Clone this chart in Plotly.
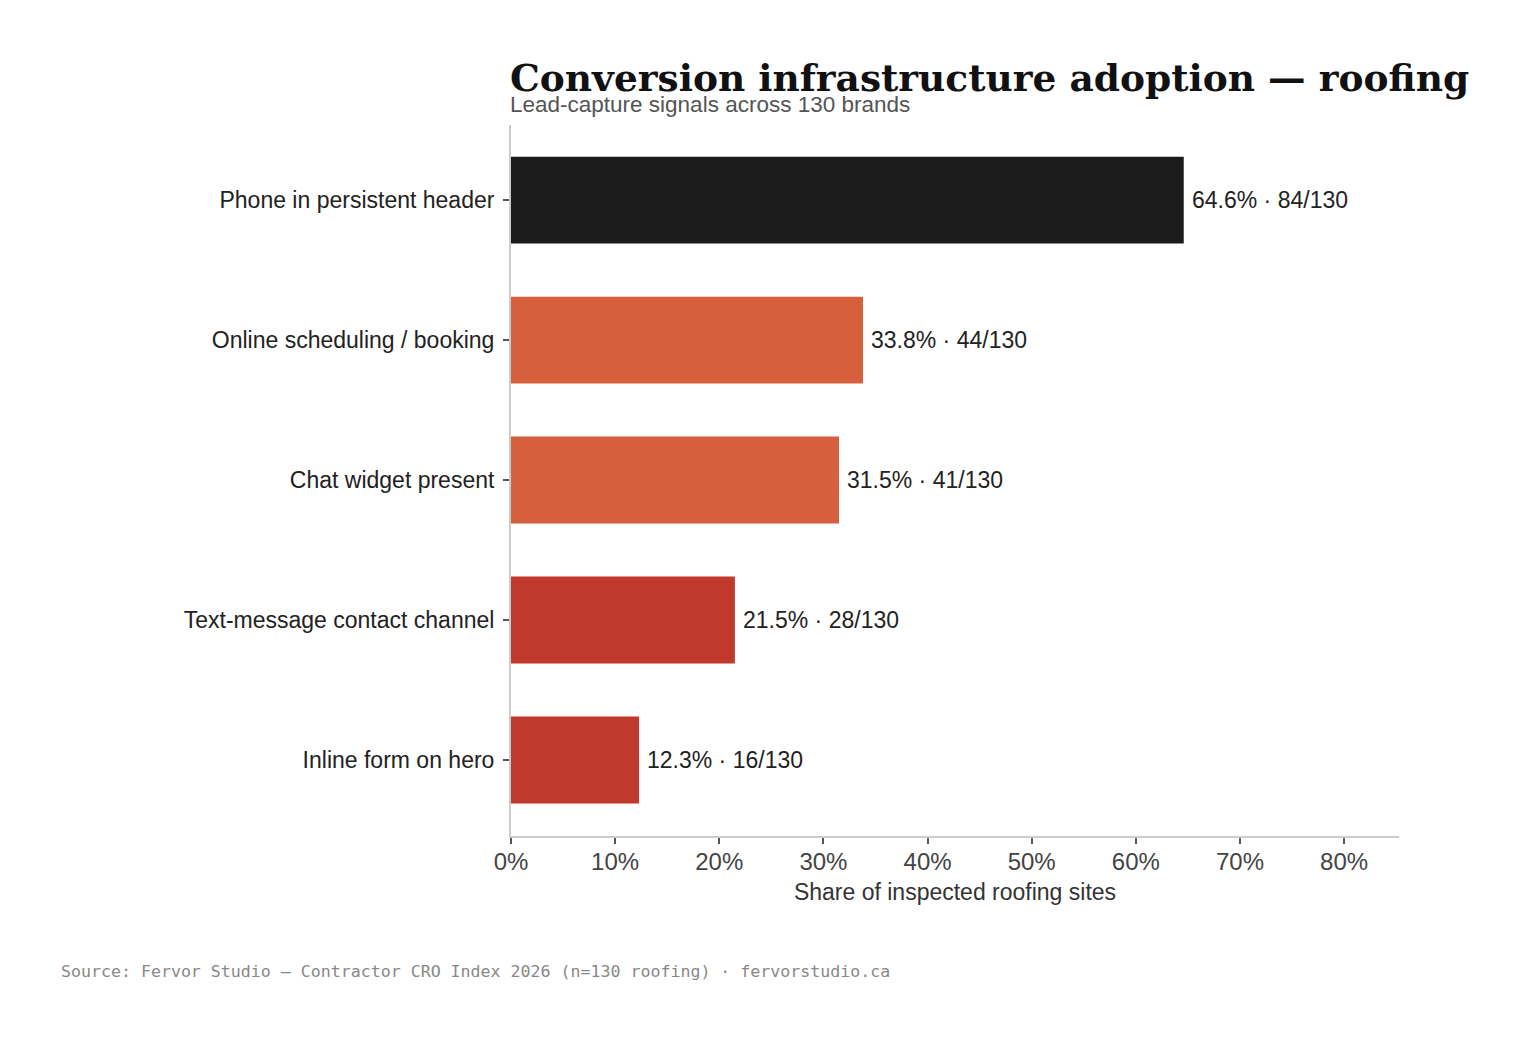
import plotly.graph_objects as go

# Data (top to bottom as shown)
categories = [
    "Phone in persistent header",
    "Online scheduling / booking",
    "Chat widget present",
    "Text-message contact channel",
    "Inline form on hero",
]
counts = [84, 44, 41, 28, 16]
total = 130
shares = [round(c / total * 100, 1) for c in counts]
bar_colors = ["#1b1b1b", "#d65f3c", "#d65f3c", "#c0392b", "#c0392b"]

labels = [f"{s:.1f}% · {c}/{total}" for s, c in zip(shares, counts)]

SANS = "Liberation Sans, Arial, sans-serif"

fig = go.Figure()
fig.add_trace(go.Bar(
    x=shares,
    y=categories,
    orientation="h",
    marker=dict(color=bar_colors, line=dict(width=0)),
    width=0.62,
    hoverinfo="skip",
    showlegend=False,
))

# value labels just past each bar end
for s, cat, lab in zip(shares, categories, labels):
    fig.add_annotation(
        x=s, y=cat, text=lab, showarrow=False,
        xanchor="left", yanchor="middle", xshift=6,
        font=dict(family=SANS, size=23, color="#222"),
    )

fig.add_annotation(
    text="<b>Conversion infrastructure adoption — roofing</b>",
    xref="paper", yref="paper", x=0, y=1.033, xanchor="left", yanchor="bottom",
    xshift=-3, showarrow=False,
    font=dict(family="DejaVu Serif, serif", size=37.5, color="#111"),
)
fig.add_annotation(
    text="Lead-capture signals across 130 brands",
    xref="paper", yref="paper", x=0, y=1.008, xanchor="left", yanchor="bottom",
    xshift=-3, showarrow=False,
    font=dict(family=SANS, size=22.5, color="#555"),
)
fig.add_annotation(
    text="Source: Fervor Studio — Contractor CRO Index 2026 (n=130 roofing) · fervorstudio.ca",
    xref="paper", yref="paper", x=-0.509, y=-0.191, xanchor="left", yanchor="middle",
    showarrow=False,
    font=dict(family="DejaVu Sans Mono, monospace", size=16.6, color="#888"),
)

fig.update_layout(
    width=1532, height=1042,
    margin=dict(l=503, r=141, t=117, b=214),
    paper_bgcolor="white", plot_bgcolor="white",
    font=dict(family=SANS, color="#222"),
)
fig.update_xaxes(
    range=[0, max(shares) * 1.32],
    ticksuffix="%", dtick=10,
    showgrid=False, zeroline=False,
    showline=True, linecolor="#cccccc", linewidth=2,
    ticks="outside", ticklen=6, tickcolor="#555", tickwidth=2,
    ticklabelstandoff=-3,
    tickfont=dict(size=24, color="#444"),
    title=dict(text="Share of inspected roofing sites", font=dict(size=23, color="#333"), standoff=10),
)
fig.update_yaxes(
    categoryorder="array", categoryarray=categories[::-1],
    range=[-0.543, 4.536],
    showgrid=False, zeroline=False,
    showline=True, linecolor="#cccccc", linewidth=2,
    ticks="outside", ticklen=6, tickcolor="#555", tickwidth=2,
    ticklabelstandoff=4,
    tickfont=dict(size=23, color="#222"),
)

fig.write_html("out.html")
